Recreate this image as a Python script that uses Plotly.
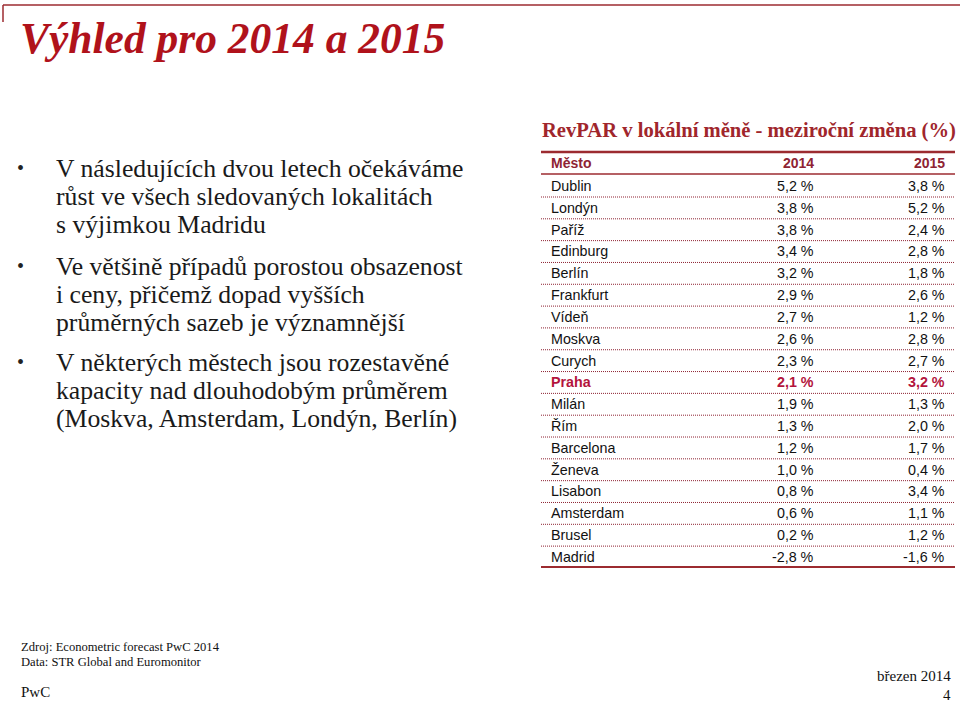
import plotly.graph_objects as go

# ---------------- data ----------------
title = "Výhled pro 2014 a 2015"
bullets = [
    ["V následujících dvou letech očekáváme", "růst ve všech sledovaných lokalitách", "s výjimkou Madridu"],
    ["Ve většině případů porostou obsazenost", "i ceny, přičemž dopad vyšších", "průměrných sazeb je významnější"],
    ["V některých městech jsou rozestavěné", "kapacity nad dlouhodobým průměrem", "(Moskva, Amsterdam, Londýn, Berlín)"],
]
table_title = "RevPAR v lokální měně - meziroční změna (%)"
header = ["Město", "2014", "2015"]
cities = ["Dublin", "Londýn", "Paříž", "Edinburg", "Berlín", "Frankfurt", "Vídeň", "Moskva",
          "Curych", "Praha", "Milán", "Řím", "Barcelona", "Ženeva", "Lisabon", "Amsterdam",
          "Brusel", "Madrid"]
v2014 = [5.2, 3.8, 3.8, 3.4, 3.2, 2.9, 2.7, 2.6, 2.3, 2.1, 1.9, 1.3, 1.2, 1.0, 0.8, 0.6, 0.2, -2.8]
v2015 = [3.8, 5.2, 2.4, 2.8, 1.8, 2.6, 1.2, 2.8, 2.7, 3.2, 1.3, 2.0, 1.7, 0.4, 3.4, 1.1, 1.2, -1.6]
highlight = "Praha"
source_lines = ["Zdroj: Econometric forecast PwC 2014", "Data: STR Global and Euromonitor"]
brand = "PwC"
date_text = "březen 2014"
page_no = "4"

# ---------------- styles ----------------
W, H = 960, 703
RED = "#b0121b"
RULE = "#9c2b30"
HEAD = "#8e2333"
HIGH = "#b3143c"
SERIF = "Liberation Serif, DejaVu Serif, serif"
SANS = "Liberation Sans, Arial, sans-serif"

def fmt(v):
    return f"{v:.1f}".replace(".", ",") + " %"

fig = go.Figure()
fig.add_trace(go.Scatter(x=[0, W], y=[0, H], mode="markers", marker=dict(opacity=0), hoverinfo="skip", showlegend=False))

ann = []
shapes = []

# top frame line
shapes.append(dict(type="line", x0=3, x1=W, y0=5, y1=5, line=dict(color=RULE, width=1.5)))
shapes.append(dict(type="line", x0=3, x1=3, y0=5, y1=22, line=dict(color=RULE, width=1.5)))

# title
ann.append(dict(x=18, y=38, text=f"<b><i>{title}</i></b>", xanchor="left", yanchor="middle",
                font=dict(family=SERIF, size=43.5, color=RED)))

# bullets
b_start = [168, 266, 362]
line_h = 28.3
for bi, lines in enumerate(bullets):
    y0 = b_start[bi]
    ann.append(dict(x=15, y=y0, text="•", xanchor="left", yanchor="middle",
                    font=dict(family=SERIF, size=20, color="#222")))
    for li, ln in enumerate(lines):
        ann.append(dict(x=54, y=y0 + li * line_h, text=ln, xanchor="left", yanchor="middle",
                        font=dict(family=SERIF, size=25.7, color="#1a1a1a")))

# table
tx0, tx1 = 541, 955
c0, c1, c2 = 549, 816, 947
ann.append(dict(x=tx0 - 1, y=130, text=f"<b>{table_title}</b>", xanchor="left", yanchor="middle",
                font=dict(family=SERIF, size=20.6, color="#a0262c")))
shapes.append(dict(type="line", x0=tx0, x1=tx1, y0=152, y1=152, line=dict(color=RULE, width=2.5)))
hy = 163
for txt, x, anc in zip(header, [c0, c1, c2], ["left", "right", "right"]):
    ann.append(dict(x=x, y=hy, text=f"<b>{txt}</b>", xanchor=anc, yanchor="middle",
                    font=dict(family=SANS, size=14, color=HEAD)))
shapes.append(dict(type="line", x0=tx0, x1=tx1, y0=174, y1=174, line=dict(color=RULE, width=1.5)))

row0, rh = 186, 21.82
for i, (c, a, b) in enumerate(zip(cities, v2014, v2015)):
    y = row0 + i * rh
    hl = c == highlight
    col = HIGH if hl else "#111"
    for txt, x, anc in zip([c, fmt(a), fmt(b)], [c0, c1, c2], ["left", "right", "right"]):
        ann.append(dict(x=x, y=y, text=f"<b>{txt}</b>" if hl else txt, xanchor=anc, yanchor="middle",
                        font=dict(family=SANS, size=14.3, color=col)))
    if i < len(cities) - 1:
        shapes.append(dict(type="line", x0=tx0, x1=tx1, y0=y + 11, y1=y + 11,
                           line=dict(color=HEAD, width=1, dash="1px,1px")))
shapes.append(dict(type="line", x0=tx0, x1=tx1, y0=567, y1=567, line=dict(color=RULE, width=2)))

# footer
for i, ln in enumerate(source_lines):
    ann.append(dict(x=19, y=647 + i * 15, text=ln, xanchor="left", yanchor="middle",
                    font=dict(family=SERIF, size=12.6, color="#111")))
ann.append(dict(x=19, y=692, text=brand, xanchor="left", yanchor="middle",
                font=dict(family=SERIF, size=15, color="#111")))
ann.append(dict(x=953, y=676, text=date_text, xanchor="right", yanchor="middle",
                font=dict(family=SERIF, size=15, color="#111")))
ann.append(dict(x=953, y=695, text=page_no, xanchor="right", yanchor="middle",
                font=dict(family=SERIF, size=15, color="#111")))

for a in ann:
    a.update(xref="x", yref="y", showarrow=False)
for s in shapes:
    s.update(xref="x", yref="y", layer="above")

fig.update_layout(
    width=W, height=H, margin=dict(l=0, r=0, t=0, b=0),
    paper_bgcolor="white", plot_bgcolor="white",
    xaxis=dict(range=[0, W], visible=False, fixedrange=True),
    yaxis=dict(range=[H, 0], visible=False, fixedrange=True),
    annotations=ann, shapes=shapes, showlegend=False,
)
fig.write_html("out.html", config={"displayModeBar": False},
               post_script="document.body.style.margin='0px';document.body.style.overflow='hidden';")
